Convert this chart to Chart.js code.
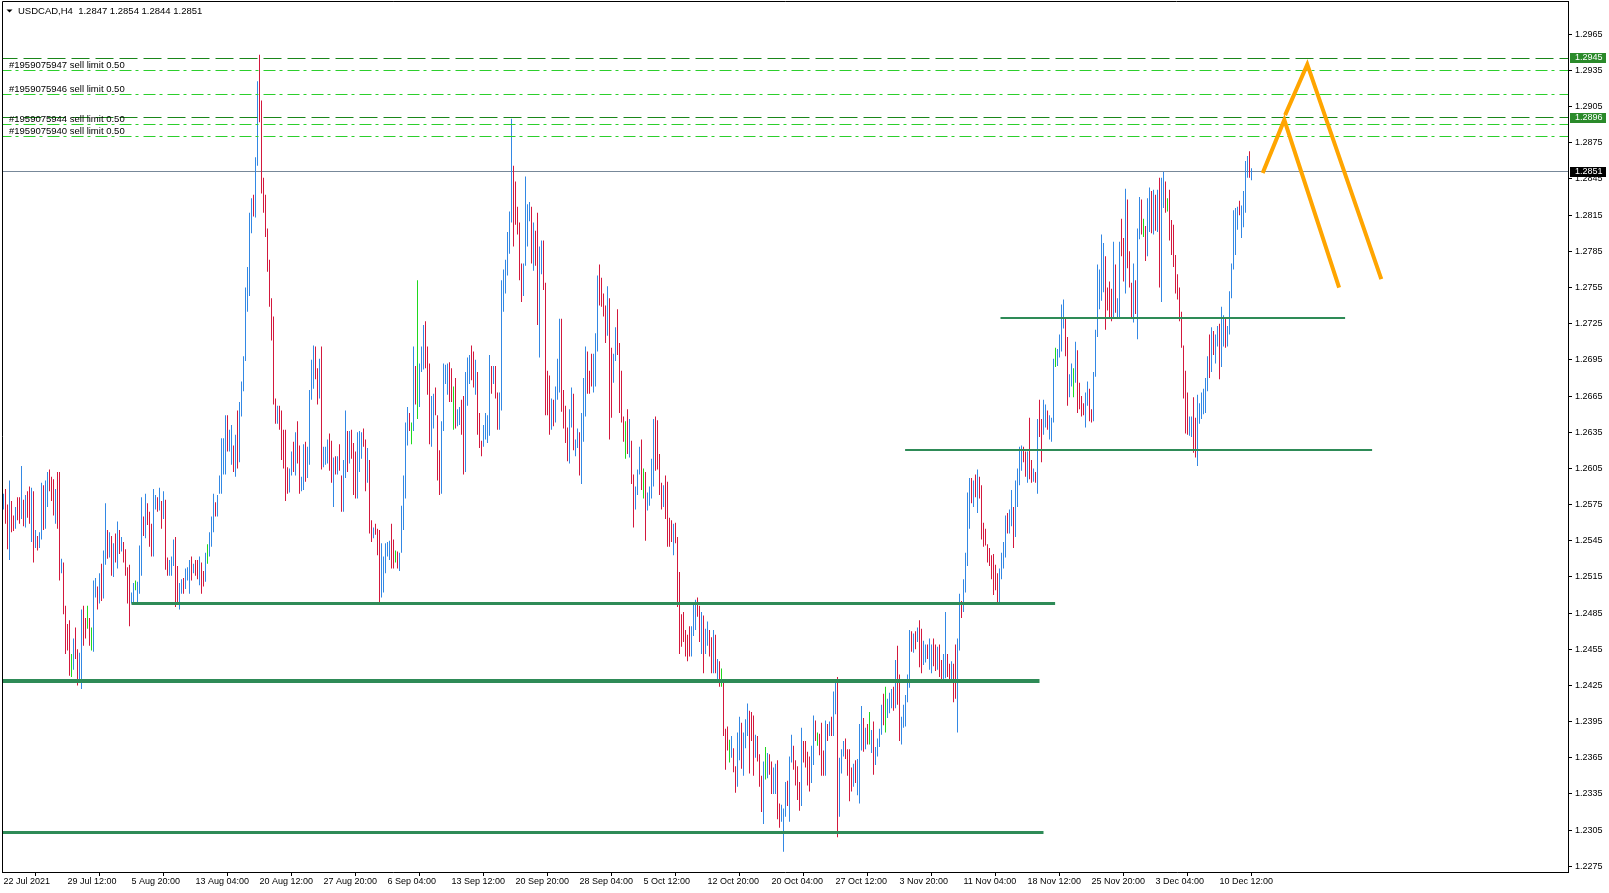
<!DOCTYPE html>
<html>
<head>
<meta charset="utf-8">
<script src="https://cdn.jsdelivr.net/npm/chart.js@4.4.0/dist/chart.umd.min.js"></script>
<style>
  body { margin: 0; background: #fff; }
</style>
</head>
<body>
<canvas id="cnv" width="1609" height="893"></canvas>
<script>
// USDCAD H4, high / low of every bar (bar 0 = 22 Jul 2021 00:00)
var highs = [1.2584,1.2588,1.2575,1.2595,1.2578,1.2566,1.2573,1.2581,1.2581,1.2607,
1.2579,1.2583,1.2586,1.2590,1.2589,1.2586,1.2554,1.2549,1.2552,1.2593,
1.2591,1.2595,1.2602,1.2604,1.2598,1.2596,1.2588,1.2602,1.2602,1.2530,
1.2527,1.2491,1.2476,1.2479,1.2451,1.2464,1.2473,1.2455,1.2452,1.2488,
1.2491,1.2481,1.2491,1.2481,1.2473,1.2512,1.2514,1.2507,1.2518,1.2526,
1.2537,1.2576,1.2554,1.2552,1.2549,1.2543,1.2551,1.2561,1.2554,1.2548,
1.2544,1.2538,1.2523,1.2525,1.2502,1.2510,1.2512,1.2511,1.2541,1.2581,
1.2565,1.2584,1.2576,1.2569,1.2559,1.2588,1.2583,1.2581,1.2589,1.2578,
1.2586,1.2579,1.2531,1.2529,1.2532,1.2546,1.2548,1.2524,1.2510,1.2513,
1.2514,1.2522,1.2523,1.2529,1.2532,1.2526,1.2529,1.2529,1.2532,1.2527,
1.2520,1.2535,1.2542,1.2552,1.2565,1.2584,1.2577,1.2583,1.2599,1.2630,
1.2630,1.2649,1.2649,1.2637,1.2641,1.2624,1.2633,1.2653,1.2660,1.2677,
1.2698,1.2755,1.2772,1.2817,1.2829,1.2832,1.2863,1.2926,1.2948,1.2910,
1.2846,1.2832,1.2804,1.2778,1.2746,1.2731,1.2663,1.2657,1.2657,1.2653,
1.2637,1.2637,1.2606,1.2605,1.2619,1.2627,1.2635,1.2644,1.2624,1.2598,
1.2625,1.2627,1.2623,1.2670,1.2695,1.2707,1.2706,1.2688,1.2696,1.2706,
1.2623,1.2623,1.2629,1.2634,1.2628,1.2614,1.2615,1.2615,1.2625,1.2599,
1.2612,1.2653,1.2636,1.2636,1.2637,1.2626,1.2619,1.2635,1.2636,1.2635,
1.2638,1.2629,1.2622,1.2612,1.2562,1.2556,1.2559,1.2555,1.2554,1.2543,
1.2532,1.2543,1.2544,1.2545,1.2559,1.2546,1.2537,1.2536,1.2535,1.2574,
1.2599,1.2643,1.2656,1.2651,1.2643,1.2706,1.2690,1.2761,1.2692,1.2706,
1.2724,1.2727,1.2706,1.2692,1.2665,1.2667,1.2672,1.2649,1.2620,1.2644,
1.2692,1.2691,1.2692,1.2693,1.2688,1.2673,1.2680,1.2654,1.2656,1.2662,
1.2665,1.2685,1.2697,1.2699,1.2707,1.2702,1.2695,1.2685,1.2651,1.2628,
1.2641,1.2651,1.2649,1.2699,1.2690,1.2690,1.2690,1.2668,1.2668,1.2761,
1.2770,1.2778,1.2801,1.2818,1.2895,1.2856,1.2843,1.2822,1.2809,1.2775,
1.2775,1.2847,1.2824,1.2826,1.2822,1.2809,1.2802,1.2817,1.2789,1.2794,
1.2794,1.2759,1.2686,1.2682,1.2663,1.2662,1.2673,1.2696,1.2729,1.2729,
1.2670,1.2657,1.2639,1.2654,1.2672,1.2667,1.2629,1.2638,1.2635,1.2651,
1.2680,1.2706,1.2702,1.2686,1.2700,1.2700,1.2717,1.2765,1.2774,1.2763,
1.2750,1.2740,1.2756,1.2746,1.2705,1.2700,1.2722,1.2737,1.2709,1.2686,
1.2648,1.2644,1.2654,1.2646,1.2628,1.2600,1.2590,1.2604,1.2623,1.2629,
1.2605,1.2602,1.2585,1.2590,1.2613,1.2646,1.2648,1.2645,1.2617,1.2593,
1.2591,1.2599,1.2594,1.2564,1.2562,1.2559,1.2560,1.2548,1.2519,1.2484,
1.2486,1.2471,1.2467,1.2474,1.2474,1.2494,1.2496,1.2498,1.2491,1.2486,
1.2483,1.2472,1.2478,1.2471,1.2465,1.2471,1.2467,1.2447,1.2445,1.2439,
1.2429,1.2389,1.2391,1.2380,1.2383,1.2373,1.2358,1.2386,1.2399,1.2394,
1.2386,1.2397,1.2410,1.2404,1.2403,1.2400,1.2384,1.2383,1.2368,1.2350,
1.2362,1.2374,1.2369,1.2368,1.2362,1.2357,1.2360,1.2363,1.2327,1.2326,
1.2323,1.2345,1.2346,1.2366,1.2384,1.2375,1.2363,1.2358,1.2345,1.2390,
1.2379,1.2379,1.2370,1.2366,1.2375,1.2400,1.2396,1.2386,1.2385,1.2394,
1.2371,1.2396,1.2393,1.2395,1.2399,1.2420,1.2430,1.2432,1.2365,1.2372,
1.2379,1.2381,1.2372,1.2372,1.2357,1.2360,1.2363,1.2364,1.2393,1.2408,
1.2398,1.2390,1.2393,1.2403,1.2388,1.2395,1.2374,1.2381,1.2389,1.2409,
1.2418,1.2424,1.2414,1.2419,1.2422,1.2424,1.2446,1.2458,1.2434,1.2399,
1.2409,1.2417,1.2434,1.2471,1.2470,1.2468,1.2470,1.2473,1.2479,1.2472,
1.2462,1.2459,1.2459,1.2464,1.2459,1.2464,1.2459,1.2457,1.2459,1.2446,
1.2451,1.2486,1.2451,1.2443,1.2445,1.2443,1.2459,1.2464,1.2501,1.2495,
1.2513,1.2535,1.2585,1.2597,1.2597,1.2595,1.2600,1.2604,1.2598,1.2591,
1.2560,1.2555,1.2542,1.2539,1.2533,1.2534,1.2525,1.2518,1.2522,1.2535,
1.2544,1.2566,1.2568,1.2571,1.2587,1.2573,1.2595,1.2605,1.2623,1.2624,
1.2623,1.2619,1.2619,1.2647,1.2612,1.2605,1.2602,1.2646,1.2662,1.2646,
1.2662,1.2658,1.2653,1.2649,1.2647,1.2696,1.2705,1.2704,1.2716,1.2741,
1.2745,1.2729,1.2714,1.2683,1.2692,1.2688,1.2710,1.2703,1.2676,1.2665,
1.2659,1.2668,1.2677,1.2671,1.2654,1.2685,1.2720,1.2774,1.2770,1.2799,
1.2792,1.2781,1.2755,1.2760,1.2754,1.2793,1.2774,1.2746,1.2793,1.2812,
1.2796,1.2837,1.2828,1.2785,1.2759,1.2775,1.2761,1.2804,1.2830,1.2828,
1.2812,1.2806,1.2829,1.2838,1.2835,1.2836,1.2832,1.2836,1.2846,1.2846,
1.2851,1.2843,1.2829,1.2836,1.2811,1.2807,1.2782,1.2766,1.2755,1.2735,
1.2707,1.2686,1.2668,1.2648,1.2648,1.2664,1.2647,1.2666,1.2659,1.2668,
1.2671,1.2680,1.2698,1.2716,1.2722,1.2719,1.2716,1.2723,1.2725,1.2739,
1.2732,1.2729,1.2723,1.2752,1.2775,1.2819,1.2821,1.2822,1.2827,1.2823,
1.2835,1.2860,1.2864,1.2868,1.2854];

var lows = [1.2571,1.2559,1.2538,1.2529,1.2552,1.2553,1.2555,1.2562,1.2559,1.2563,
1.2557,1.2556,1.2564,1.2559,1.2544,1.2527,1.2539,1.2537,1.2539,1.2546,
1.2554,1.2555,1.2573,1.2586,1.2578,1.2566,1.2559,1.2555,1.2512,1.2518,
1.2484,1.2451,1.2454,1.2433,1.2432,1.2438,1.2447,1.2425,1.2427,1.2422,
1.2458,1.2464,1.2472,1.2458,1.2454,1.2453,1.2498,1.2488,1.2493,1.2495,
1.2497,1.2525,1.2530,1.2531,1.2516,1.2515,1.2527,1.2522,1.2534,1.2536,
1.2527,1.2516,1.2493,1.2474,1.2493,1.2493,1.2504,1.2493,1.2501,1.2516,
1.2549,1.2547,1.2558,1.2540,1.2532,1.2532,1.2571,1.2569,1.2570,1.2555,
1.2563,1.2521,1.2516,1.2516,1.2516,1.2524,1.2490,1.2493,1.2488,1.2501,
1.2501,1.2505,1.2512,1.2501,1.2512,1.2518,1.2516,1.2513,1.2508,1.2501,
1.2507,1.2511,1.2526,1.2532,1.2540,1.2552,1.2565,1.2565,1.2584,1.2584,
1.2600,1.2600,1.2619,1.2619,1.2608,1.2602,1.2598,1.2605,1.2610,1.2648,
1.2669,1.2694,1.2735,1.2748,1.2800,1.2814,1.2813,1.2856,1.2892,1.2833,
1.2817,1.2797,1.2768,1.2739,1.2711,1.2658,1.2642,1.2642,1.2637,1.2612,
1.2605,1.2578,1.2584,1.2585,1.2599,1.2602,1.2599,1.2609,1.2584,1.2586,
1.2587,1.2594,1.2597,1.2608,1.2662,1.2671,1.2679,1.2658,1.2663,1.2604,
1.2606,1.2608,1.2609,1.2603,1.2593,1.2573,1.2600,1.2600,1.2603,1.2569,
1.2569,1.2597,1.2602,1.2609,1.2613,1.2583,1.2580,1.2580,1.2602,1.2613,
1.2623,1.2586,1.2593,1.2551,1.2544,1.2547,1.2550,1.2533,1.2492,1.2498,
1.2502,1.2518,1.2532,1.2529,1.2522,1.2522,1.2527,1.2522,1.2520,1.2535,
1.2554,1.2580,1.2624,1.2636,1.2625,1.2636,1.2658,1.2646,1.2656,1.2685,
1.2687,1.2688,1.2666,1.2625,1.2623,1.2638,1.2649,1.2595,1.2583,1.2584,
1.2636,1.2675,1.2666,1.2660,1.2660,1.2637,1.2638,1.2640,1.2641,1.2633,
1.2600,1.2602,1.2657,1.2675,1.2678,1.2672,1.2666,1.2633,1.2622,1.2615,
1.2623,1.2629,1.2626,1.2632,1.2667,1.2675,1.2663,1.2637,1.2637,1.2653,
1.2735,1.2750,1.2765,1.2783,1.2809,1.2789,1.2807,1.2799,1.2761,1.2743,
1.2748,1.2773,1.2789,1.2810,1.2775,1.2769,1.2773,1.2724,1.2697,1.2766,
1.2753,1.2649,1.2649,1.2633,1.2637,1.2640,1.2643,1.2662,1.2668,1.2652,
1.2638,1.2626,1.2611,1.2609,1.2639,1.2620,1.2615,1.2622,1.2599,1.2592,
1.2627,1.2648,1.2667,1.2667,1.2673,1.2668,1.2673,1.2702,1.2740,1.2739,
1.2731,1.2709,1.2715,1.2629,1.2647,1.2676,1.2694,1.2699,1.2651,1.2643,
1.2627,1.2613,1.2617,1.2614,1.2592,1.2556,1.2571,1.2583,1.2600,1.2587,
1.2580,1.2545,1.2570,1.2574,1.2580,1.2590,1.2603,1.2604,1.2583,1.2571,
1.2573,1.2563,1.2540,1.2540,1.2544,1.2533,1.2543,1.2490,1.2451,1.2457,
1.2461,1.2449,1.2445,1.2449,1.2449,1.2466,1.2471,1.2482,1.2461,1.2451,
1.2435,1.2451,1.2458,1.2449,1.2435,1.2435,1.2435,1.2429,1.2424,1.2424,
1.2383,1.2355,1.2371,1.2361,1.2365,1.2353,1.2336,1.2341,1.2363,1.2356,
1.2350,1.2373,1.2383,1.2352,1.2379,1.2350,1.2365,1.2362,1.2341,1.2320,
1.2310,1.2347,1.2348,1.2351,1.2335,1.2335,1.2335,1.2314,1.2307,1.2312,
1.2287,1.2316,1.2325,1.2312,1.2361,1.2355,1.2342,1.2330,1.2321,1.2325,
1.2361,1.2357,1.2342,1.2337,1.2344,1.2359,1.2379,1.2375,1.2367,1.2350,
1.2350,1.2350,1.2379,1.2383,1.2383,1.2383,1.2401,1.2299,1.2316,1.2352,
1.2366,1.2364,1.2350,1.2329,1.2337,1.2341,1.2344,1.2334,1.2327,1.2371,
1.2370,1.2372,1.2376,1.2376,1.2369,1.2351,1.2359,1.2366,1.2374,1.2384,
1.2392,1.2386,1.2398,1.2402,1.2406,1.2404,1.2406,1.2409,1.2379,1.2376,
1.2390,1.2391,1.2411,1.2423,1.2453,1.2452,1.2455,1.2461,1.2440,1.2435,
1.2442,1.2444,1.2447,1.2438,1.2435,1.2441,1.2437,1.2438,1.2432,1.2428,
1.2430,1.2431,1.2432,1.2430,1.2430,1.2411,1.2414,1.2386,1.2454,1.2481,
1.2486,1.2502,1.2524,1.2555,1.2576,1.2573,1.2581,1.2568,1.2580,1.2546,
1.2540,1.2541,1.2527,1.2524,1.2513,1.2500,1.2504,1.2492,1.2494,1.2513,
1.2522,1.2531,1.2551,1.2551,1.2557,1.2539,1.2548,1.2573,1.2591,1.2603,
1.2610,1.2598,1.2593,1.2596,1.2593,1.2594,1.2593,1.2584,1.2631,1.2610,
1.2633,1.2639,1.2637,1.2629,1.2627,1.2643,1.2689,1.2690,1.2697,1.2702,
1.2721,1.2698,1.2657,1.2664,1.2673,1.2664,1.2676,1.2651,1.2654,1.2648,
1.2649,1.2639,1.2657,1.2644,1.2643,1.2644,1.2681,1.2714,1.2737,1.2744,
1.2751,1.2720,1.2736,1.2730,1.2727,1.2729,1.2734,1.2729,1.2729,1.2781,
1.2760,1.2750,1.2771,1.2755,1.2730,1.2726,1.2733,1.2712,1.2795,1.2799,
1.2797,1.2777,1.2781,1.2801,1.2800,1.2799,1.2802,1.2801,1.2755,1.2743,
1.2821,1.2817,1.2818,1.2794,1.2782,1.2772,1.2750,1.2745,1.2727,1.2705,
1.2663,1.2634,1.2633,1.2632,1.2631,1.2618,1.2614,1.2607,1.2642,1.2646,
1.2650,1.2651,1.2669,1.2680,1.2685,1.2699,1.2692,1.2706,1.2679,1.2689,
1.2706,1.2705,1.2706,1.2716,1.2746,1.2770,1.2782,1.2803,1.2815,1.2796,
1.2805,1.2817,1.2846,1.2846,1.2844];

// bar direction, ten bars per string: u = up, d = down, n = doji
var dirs = [
'uddudduddu','duddududuu','duuddduddu','ddddnudduu','ddndnuudud',
'uududududu','dddduunuuu','duddduudud','udduuudduu','duuududdud',
'dunuuuduuu','uuduududuu','uuuuuduudd','dddddddudd','ddduududdu',
'uduuuuddud','uuuddududd','uududdduuu','dduddudddu','uuuuddnduu',
'uuudnudnuu','uddduudddu','uuuddnduud','duuudduddd','uuuududduu',
'uuuuuddddd','uuuududduu','dddduduuud','ddduuduudu','uuddduuudd',
'ddudduuddd','dndudduuud','nduuuudddd','uddddudddd','dddduuuddu',
'duuddududn','dddnudduud','uuuddduddd','unudduuddu','uuduuddddu',
'dddduudndd','dududuuduu','udddduduuu','dudnuduuuu','dnuuududdu',
'uuuudududd','uuduuddudd','uuddudduud','uuuudududd','dddddddduu',
'uuduuduuuu','dduddududd','uuduuunuuu','udduunuddd','duudduuuuu',
'udddduduud','duddduduud','nduudududu','udnddddddd','ddduudduuu',
'uuududuudu','uduuuuuudu','uuudu'
].join('').split('');

var timeLabels = ['22 Jul 2021','29 Jul 12:00','5 Aug 20:00','13 Aug 04:00','20 Aug 12:00',
  '27 Aug 20:00','6 Sep 04:00','13 Sep 12:00','20 Sep 20:00','28 Sep 04:00','5 Oct 12:00',
  '12 Oct 20:00','20 Oct 04:00','27 Oct 12:00','3 Nov 20:00','11 Nov 04:00','18 Nov 12:00',
  '25 Nov 20:00','3 Dec 04:00','10 Dec 12:00'];
var barsPerLabel = 32;

var priceTicks = [1.2275,1.2305,1.2335,1.2365,1.2395,1.2425,1.2455,1.2485,1.2515,1.2545,
  1.2575,1.2605,1.2635,1.2665,1.2695,1.2725,1.2755,1.2785,1.2815,1.2845,1.2875,1.2905,
  1.2935,1.2965];

var symbol = 'USDCAD,H4';
var lastOHLC = [1.2847, 1.2854, 1.2844, 1.2851];
var bid = 1.2851;

// pending orders (sell limits) and the two alert levels
var orderTickets = ['1959075947','1959075946','1959075944','1959075940'];
var orderPrices = [1.2935, 1.2915, 1.2890, 1.2880];
var orderLots = [0.50, 0.50, 0.50, 0.50];
var alertPrices = [1.2945, 1.2896];

// hand drawn support / resistance levels: price, first bar, last bar
var levelPrices = [1.2493, 1.2429, 1.2303, 1.2620, 1.2730];
var levelFrom = [64, -2, -2, 450.8, 498.5];
var levelTo = [525.8, 518, 520, 684.3, 670.8];

// the two orange projection paths (bar index, price)
var pathA = [{x: 629.6, y: 1.2850}, {x: 640.4, y: 1.2894}, {x: 667.8, y: 1.2755}];
var pathB = [{x: 640.8, y: 1.2898}, {x: 651.9, y: 1.2940}, {x: 688.9, y: 1.2762}];

var BLUE = '#3388e4', RED = '#d3183d', LIME = '#1fd81f';
var FONT = { family: 'Liberation Sans', size: 9 };
var levelWidths = [3, 4, 3, 2, 2];

var barData = highs.map(function(h, i) { return { x: i, y: [lows[i], h] }; });
var barColors = dirs.map(function(d) { return d == 'u' ? BLUE : (d == 'd' ? RED : LIME); });

function flat(price, x0, x1) { return [{ x: x0, y: price }, { x: x1, y: price }]; }
function lineSet(data, color, width, dash, order, snap) {
  return { type: 'line', data: data, borderColor: color, borderWidth: width, borderDash: dash || [],
    pointRadius: 0, pointHoverRadius: 0, fill: false, tension: 0, borderCapStyle: 'butt',
    order: order, snap: !!snap };
}

var datasets = [];
datasets.push({ type: 'bar', data: barData, backgroundColor: barColors, barThickness: 1,
  inflateAmount: 0, borderWidth: 0, order: 10 });
datasets.push(lineSet(flat(bid, -2, 790), '#778899', 1, null, 11, true));
alertPrices.forEach(function(p) { datasets.push(lineSet(flat(p, -2, 790), '#1a861a', 1, [18, 6], 5, true)); });
orderPrices.forEach(function(p) { datasets.push(lineSet(flat(p, -2, 790), '#2ccf2c', 1, [12, 4, 3, 5], 5, true)); });
levelPrices.forEach(function(p, k) {
  datasets.push(lineSet(flat(p, levelFrom[k], levelTo[k]), '#2e8b57', levelWidths[k], null, 2, true));
});
datasets.push(lineSet(pathA, '#ffa500', 4, null, 0));
datasets.push(lineSet(pathB, '#ffa500', 4, null, 0));

// keep flat lines on whole pixels so they stay sharp like the terminal draws them
var snapPlugin = {
  id: 'snap',
  afterDatasetsUpdate: function(chart) {
    chart.data.datasets.forEach(function(ds, i) {
      if (!ds.snap) return;
      chart.getDatasetMeta(i).data.forEach(function(pt) {
        pt.y = ds.borderWidth % 2 ? Math.floor(pt.y) + 0.5 : Math.round(pt.y);
      });
    });
  }
};

var overlay = {
  id: 'overlay',
  afterDraw: function(chart) {
    var ctx = chart.ctx, a = chart.chartArea, ys = chart.scales.y;
    ctx.save();
    // frame left and top
    ctx.strokeStyle = '#000';
    ctx.lineWidth = 1;
    ctx.beginPath();
    ctx.moveTo(a.left + 0.5, a.bottom);
    ctx.lineTo(a.left + 0.5, a.top + 0.5);
    ctx.lineTo(a.right, a.top + 0.5);
    ctx.stroke();

    ctx.font = '9.5px "Liberation Sans"';
    ctx.fillStyle = '#000';
    // order descriptions above their lines
    ctx.textBaseline = 'alphabetic';
    orderPrices.forEach(function(p, k) {
      ctx.fillText('#' + orderTickets[k] + ' sell limit ' + orderLots[k].toFixed(2),
        a.left + 7, Math.floor(ys.getPixelForValue(p)) - 2);
    });
    // header
    ctx.beginPath();
    ctx.moveTo(a.left + 4.5, a.top + 8.5);
    ctx.lineTo(a.left + 10.5, a.top + 8.5);
    ctx.lineTo(a.left + 7.5, a.top + 11.5);
    ctx.closePath();
    ctx.fill();
    ctx.textBaseline = 'middle';
    ctx.fillText(symbol + '  ' + lastOHLC.map(function(v) { return v.toFixed(4); }).join(' '),
      a.left + 16, a.top + 10);
    // price boxes on the axis
    ctx.font = '9px "Liberation Sans"';
    function box(p, bg) {
      var y = Math.round(ys.getPixelForValue(p));
      ctx.fillStyle = bg;
      ctx.fillRect(a.right + 2, y - 5, 36, 10);
      ctx.fillStyle = '#fff';
      ctx.fillText(p.toFixed(4), a.right + 7, y);
    }
    alertPrices.forEach(function(p) { box(p, '#2a8a2a'); });
    box(bid, '#000');
    ctx.restore();
  }
};

new Chart(document.getElementById('cnv').getContext('2d'), {
  data: { datasets: datasets },
  options: {
    responsive: false,
    devicePixelRatio: 1,
    animation: false,
    events: [],
    layout: { padding: { left: 2, top: 1, right: 0, bottom: 0 } },
    plugins: { legend: { display: false }, tooltip: { enabled: false } },
    scales: {
      x: {
        type: 'linear', position: 'bottom', min: -0.75, max: 782.25, offset: false,
        grid: { drawOnChartArea: false, drawTicks: true, tickLength: 4, color: '#000' },
        border: { display: true, color: '#000', width: 1 },
        ticks: {
          autoSkip: false, maxRotation: 0, align: 'start', padding: 0, color: '#000', font: FONT,
          callback: function(v) { var k = Math.round(v / barsPerLabel); return timeLabels[k] || ''; }
        },
        afterBuildTicks: function(s) {
          s.ticks = timeLabels.map(function(t, k) { return { value: k * barsPerLabel }; });
        },
        afterFit: function(s) {
          s.height = 21;
          s.paddingLeft = 0; s.paddingRight = 0;
        }
      },
      y: {
        type: 'linear', position: 'right', min: 1.227027, max: 1.299262,
        grid: { drawOnChartArea: false, drawTicks: true, tickLength: 4, color: '#000' },
        border: { display: true, color: '#000', width: 1 },
        ticks: {
          padding: 3, color: '#000', font: FONT,
          callback: function(v) { return v.toFixed(4); }
        },
        afterBuildTicks: function(s) {
          s.ticks = priceTicks.map(function(v) { return { value: v }; });
        },
        afterFit: function(s) {
          s.width = 41;
          s.paddingTop = 0; s.paddingBottom = 0;
        }
      }
    }
  },
  plugins: [snapPlugin, overlay]
});
</script>
</body>
</html>
